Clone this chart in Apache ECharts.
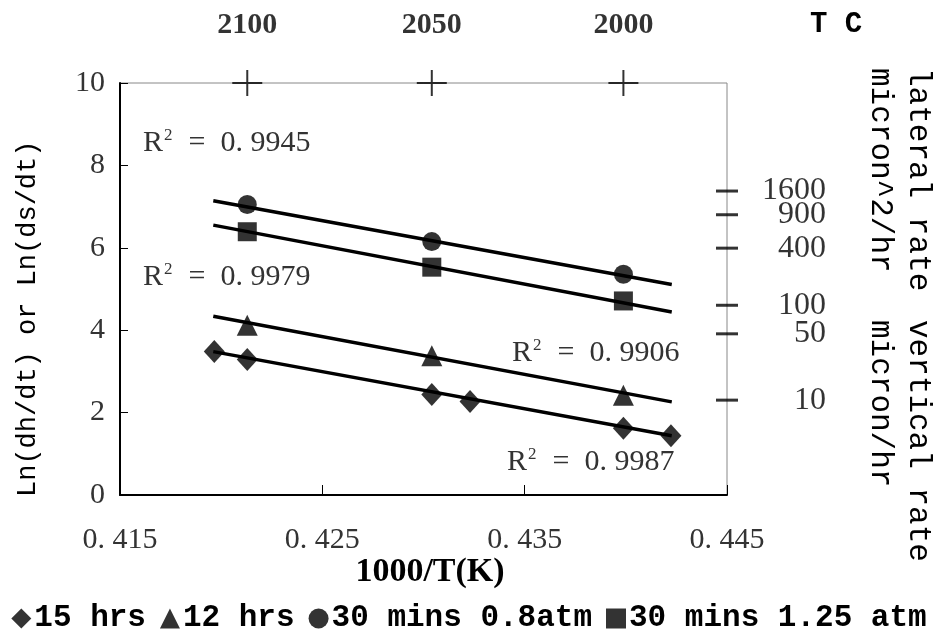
<!DOCTYPE html>
<html>
<head>
<meta charset="utf-8">
<script src="https://cdn.jsdelivr.net/npm/echarts@6/dist/echarts.min.js"></script>
<style>
  html, body { margin: 0; padding: 0; background: #fff; }
  #chart { width: 938px; height: 643px; }
</style>
</head>
<body>
<div id="chart"></div>
<script>
// points (x = 1000/T(K), y = ln rate)
const xHot = [0.42129, 0.43041, 0.43988]
const yCircle = [7.05, 6.15, 5.36]
const ySquare = [6.39, 5.53, 4.71]
const yTriangle = [4.12, 3.38, 2.42]
const xDiamond = [0.41966, 0.42129, 0.43041, 0.43230, 0.43988, 0.44223]
const yDiamond = [3.48, 3.29, 2.44, 2.27, 1.62, 1.44]

// fitted trend lines, end points
const xTrend = [0.41961, 0.44227]
const trendCircle = [7.14, 5.11]
const trendSquare = [6.55, 4.44]
const trendTriangle = [4.34, 2.26]
const trendDiamond = [3.48, 1.44]

// top temperature marks (deg C) and right rate marks
const topTickX = [0.42129, 0.43041, 0.43988]
const topTickLabels = ['2100', '2050', '2000']
const rateTicks = [1600, 900, 400, 100, 50, 10]

const seriesNames = ['15 hrs', '12 hrs', '30 mins 0.8atm', '30 mins 1.25 atm']
const r2Labels = ['0. 9945', '0. 9979', '0. 9906', '0. 9987']

const mono = 'Liberation Mono'
const serif = 'Liberation Serif'

function pairs(xs, ys) {
  return xs.map((x, i) => [x, ys[i]])
}

function trend(ys) {
  return {
    type: 'line',
    data: pairs(xTrend, ys),
    showSymbol: false,
    silent: true,
    z: 2,
    lineStyle: { color: '#000', width: 3.5 }
  }
}

function marks(name, symbol, size, xs, ys) {
  return {
    name: name,
    type: 'scatter',
    symbol: symbol,
    symbolSize: size,
    data: pairs(xs, ys),
    z: 5,
    itemStyle: { color: '#000' }
  }
}

const chart = echarts.init(document.getElementById('chart'))

function r2Text(label, x, y) {
  return {
    type: 'text',
    x: x,
    y: y,
    style: {
      text: '{r|R}{s|2}{r|  =  ' + label + '}',
      rich: {
        r: { fontFamily: serif, fontSize: 30, fill: '#333', lineHeight: 32 },
        s: { fontFamily: serif, fontSize: 17, fill: '#333', lineHeight: 17, verticalAlign: 'top', padding: [0, 1, 0, 1] }
      },
      verticalAlign: 'middle'
    }
  }
}

function sideText(text, x, y, rotation, size) {
  return {
    type: 'text',
    x: x,
    y: y,
    rotation: rotation,
    style: {
      text: text,
      fontFamily: mono,
      fontSize: size,
      fill: '#000',
      align: 'left',
      verticalAlign: 'middle'
    }
  }
}

chart.setOption({
  animation: false,
  backgroundColor: '#fff',
  grid: {
    left: 120,
    right: 211,
    top: 83,
    bottom: 148,
    show: true,
    borderColor: '#888',
    borderWidth: 1
  },
  legend: {
    data: [
      { name: seriesNames[0], icon: 'diamond' },
      { name: seriesNames[1], icon: 'triangle' },
      { name: seriesNames[2], icon: 'circle' },
      { name: seriesNames[3], icon: 'rect' }
    ],
    left: 'center',
    top: 598,
    itemWidth: 20,
    itemHeight: 20,
    itemGap: 14,
    textStyle: { fontFamily: mono, fontWeight: 'bold', fontSize: 31, color: '#000', padding: [0, 0, 0, -2] }
  },
  xAxis: {
    type: 'value',
    min: 0.415,
    max: 0.445,
    interval: 0.01,
    splitLine: { show: false },
    axisLine: { lineStyle: { color: '#000', width: 2 } },
    axisTick: { inside: true, length: 10, lineStyle: { color: '#000' } },
    axisLabel: {
      margin: 30,
      fontFamily: serif,
      fontSize: 30,
      color: '#333',
      formatter: v => v.toFixed(3).replace('.', '. ')
    }
  },
  yAxis: {
    type: 'value',
    min: 0,
    max: 10,
    interval: 2,
    splitLine: { show: false },
    axisLine: { lineStyle: { color: '#000', width: 2 } },
    axisTick: { inside: true, length: 8, lineStyle: { color: '#000' } },
    axisLabel: { margin: 15, fontFamily: serif, fontSize: 30, color: '#333' }
  },
  graphic: [
    sideText('Ln(dh/dt) or Ln(ds/dt)', 28, 497, Math.PI / 2, 27),
    sideText('lateral rate', 918, 68, -Math.PI / 2, 31),
    sideText('micron^2/hr', 880, 68, -Math.PI / 2, 31),
    sideText('vertical rate', 918, 320, -Math.PI / 2, 31),
    sideText('micron/hr', 880, 320, -Math.PI / 2, 31),
    {
      type: 'text', x: 836, y: 25,
      style: { text: 'T C', fontFamily: mono, fontWeight: 'bold', fontSize: 29, fill: '#000', align: 'center', verticalAlign: 'middle' }
    },
    {
      type: 'text', x: 430, y: 572,
      style: { text: '1000/T(K)', fontFamily: serif, fontWeight: 'bold', fontSize: 34, fill: '#000', align: 'center', verticalAlign: 'middle' }
    },
    r2Text(r2Labels[0], 143, 143),
    r2Text(r2Labels[1], 143, 277),
    r2Text(r2Labels[2], 512, 353),
    r2Text(r2Labels[3], 507, 462)
  ],
  series: [
    trend(trendCircle),
    trend(trendSquare),
    trend(trendTriangle),
    trend(trendDiamond),
    marks(seriesNames[0], 'diamond', [21, 23], xDiamond, yDiamond),
    marks(seriesNames[1], 'triangle', [21, 21], xHot, yTriangle),
    marks(seriesNames[2], 'circle', 19, xHot, yCircle),
    marks(seriesNames[3], 'rect', 19, xHot, ySquare),
    {
      // temperature crosses on the top border
      type: 'scatter',
      silent: true,
      clip: false,
      symbol: 'path://M14,0H16V12H30V14H16V26H14V14H0V12H14Z',
      symbolSize: [30, 26],
      itemStyle: { color: '#000' },
      data: topTickX.map(x => [x, 10]),
      label: {
        show: true,
        position: 'inside',
        offset: [0, -58],
        fontFamily: serif,
        fontWeight: 'bold',
        fontSize: 30,
        color: '#000',
        formatter: p => topTickLabels[p.dataIndex]
      }
    },
    {
      // rate marks on the right border, placed at ln(rate)
      type: 'scatter',
      silent: true,
      clip: false,
      symbol: 'rect',
      symbolSize: [22, 3],
      itemStyle: { color: '#000' },
      data: rateTicks.map(v => [0.445, Math.log(v)]),
      label: {
        show: true,
        position: 'inside',
        align: 'right',
        offset: [99, 0],
        fontFamily: serif,
        fontSize: 32,
        color: '#000',
        formatter: p => String(rateTicks[p.dataIndex])
      }
    }
  ]
})
</script>
</body>
</html>
